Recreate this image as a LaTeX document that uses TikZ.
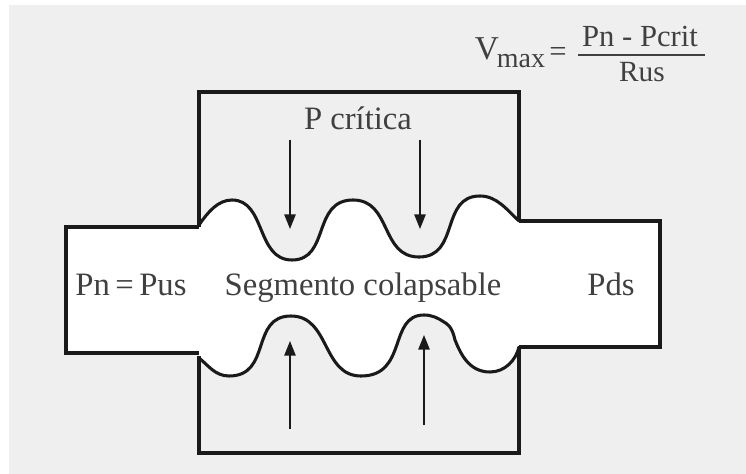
\documentclass[tikz,border=0pt]{standalone}
\usepackage{fontspec}
\setmainfont{Liberation Serif}
\usetikzlibrary{arrows.meta}
\definecolor{bggray}{HTML}{EFEFEF}
\definecolor{inkdark}{HTML}{1A1A1A}
\definecolor{txtgray}{HTML}{404040}
\tikzset{
  wall/.style={draw=inkdark,line width=2.8pt,line join=miter},
  wavy/.style={draw=inkdark,line width=2.3pt,line cap=round},
  tube/.style={draw=inkdark,line width=2.6pt},
  press/.style={draw=inkdark,line width=1.3pt,-{Triangle[length=11pt,width=8.5pt]}},
  lbl/.style={text=txtgray,font=\fontsize{24.5}{28}\selectfont,inner sep=0pt,anchor=base},
  frm/.style={text=txtgray,font=\fontsize{23}{26}\selectfont,inner sep=0pt,anchor=base},
}
\def\topwave{(199,225)
  .. controls (208,212) and (218,200) .. (232,200)
  .. controls (266,200) and (256,260) .. (292,260)
  .. controls (330,260) and (312,200) .. (353,200)
  .. controls (392,200) and (380,257) .. (419,257)
  .. controls (460,257) and (440,196) .. (480,196)
  .. controls (497,196) and (507,210) .. (519,221)}
\def\botwave{(519,347)
  .. controls (516,360) and (505,372) .. (490,372)
  .. controls (468,372) and (460,352) .. (455,340)
  .. controls (452,326) and (447,324) .. (444,322)
  .. controls (438,318) and (432,315) .. (424,315)
  .. controls (388,315) and (408,376) .. (361,376)
  .. controls (322,376) and (330,316) .. (291,316)
  .. controls (250,316) and (272,376) .. (229,376)
  .. controls (215,376) and (208,365) .. (199,358)}
\begin{document}
\begin{tikzpicture}[x=0.75pt,y=-0.75pt]
\useasboundingbox (0,0) rectangle (746,474);
\fill[white] (0,0) rectangle (746,474);
\fill[bggray] (9,5) rectangle (746,474);
% tube interior
\fill[white] (66,227) -- \topwave -- (660,221) -- (660,347) -- \botwave -- (199,353) -- (66,353) -- cycle;
% chamber
\draw[wall] (199,227) -- (199,92) -- (519,92) -- (519,221);
\draw[wall] (199,356) -- (199,453) -- (519,453) -- (519,347);
% tube ends
\draw[tube] (199,227) -- (66,227) -- (66,353) -- (199,353);
\draw[tube] (519,221) -- (660,221) -- (660,347) -- (519,347);
% collapsing walls
\draw[wavy] \topwave;
\draw[wavy] \botwave;
% arrows
\coordinate (a1s) at (290,140); \coordinate (a1e) at (290,229);
\coordinate (a2s) at (420,140); \coordinate (a2e) at (420,229);
\coordinate (a3s) at (290,429); \coordinate (a3e) at (290,341);
\coordinate (a4s) at (424,425); \coordinate (a4e) at (424,335);
\draw[press] (a1s) -- (a1e);
\draw[press] (a2s) -- (a2e);
\draw[press] (a3s) -- (a3e);
\draw[press] (a4s) -- (a4e);
% labels
\node[lbl] (pc) at (358,130) {P crítica};
\node[lbl] (pn) at (131,295) {Pn\,=\,Pus};
\node[lbl] (sc) at (363,295) {Segmento colapsable};
\node[lbl] (pd) at (611,295) {Pds};
% formula
\node[frm,font=\fontsize{25}{28}\selectfont] (vm) at (487,60) {V};
\node[frm,font=\fontsize{21}{24}\selectfont] (mx) at (521,68) {max};
\node[frm] (eq) at (558,62) {=};
\node[frm] (num) at (640,47) {Pn - Pcrit};
\node[frm,font=\fontsize{22}{25}\selectfont] (den) at (642,82) {Rus};
\draw[draw=txtgray,line width=1.5pt] (578,55) -- (705,55);
\end{tikzpicture}
\end{document}
